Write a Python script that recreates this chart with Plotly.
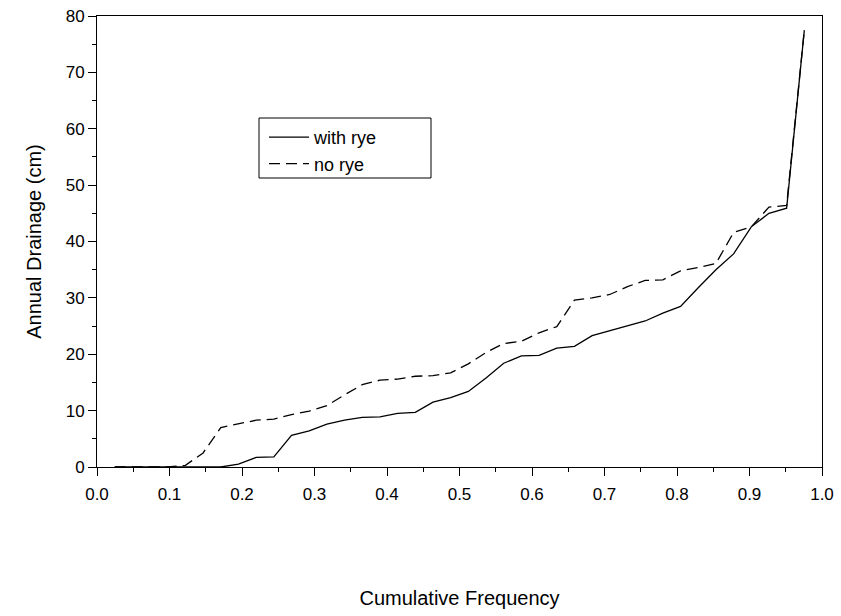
import plotly.graph_objects as go

n = 40
cum_freq = [i / (n + 1) for i in range(1, n + 1)]

with_rye = [0, 0, 0, 0, 0, 0, 0, 0.5, 1.7, 1.8,
            5.6, 6.4, 7.6, 8.3, 8.8, 8.9, 9.5, 9.7, 11.5, 12.3,
            13.4, 15.8, 18.4, 19.7, 19.8, 21.1, 21.4, 23.3, 24.2, 25.0,
            25.9, 27.3, 28.5, 31.8, 35.0, 37.8, 42.6, 45.0, 45.9, 77.5]

no_rye = [0, 0, 0, 0, 0.3, 2.5, 7.0, 7.6, 8.3, 8.5,
          9.3, 9.9, 10.9, 12.8, 14.6, 15.4, 15.6, 16.1, 16.2, 16.7,
          18.3, 20.3, 21.9, 22.3, 23.8, 24.9, 29.6, 30.0, 30.6, 32.0,
          33.1, 33.2, 34.8, 35.4, 36.1, 41.6, 42.6, 46.1, 46.4, 77.5]

x_ticks = [round(0.1 * i, 1) for i in range(11)]
y_ticks = list(range(0, 81, 10))

FONT = "Liberation Sans, Arial, sans-serif"

fig = go.Figure()
fig.add_trace(go.Scatter(x=cum_freq, y=with_rye, mode="lines", name="with rye",
                         line=dict(color="black", width=1.3)))
fig.add_trace(go.Scatter(x=cum_freq, y=no_rye, mode="lines", name="no rye",
                         line=dict(color="black", width=1.3, dash="11px,6px")))

axis_common = dict(showgrid=False, zeroline=False, showline=True, linecolor="black",
                   linewidth=1, mirror=True, ticks="outside", ticklen=8, tickwidth=1,
                   tickcolor="black", tickfont=dict(family=FONT, size=17, color="black"),
                   automargin=False)

fig.update_xaxes(range=[0, 1], tickvals=x_ticks, ticktext=[f"{v:.1f}" for v in x_ticks],
                 minor=dict(dtick=0.05, ticks="outside", ticklen=4, tickcolor="black"),
                 ticklabelstandoff=4,
                 title=dict(text="Cumulative Frequency", font=dict(family=FONT, size=20, color="black"),
                            standoff=87),
                 **axis_common)
fig.update_yaxes(range=[0, 80], tickvals=y_ticks,
                 minor=dict(dtick=5, ticks="outside", ticklen=4, tickcolor="black"),
                 title=dict(text="Annual Drainage (cm)", font=dict(family=FONT, size=20, color="black"),
                            standoff=18),
                 **axis_common)

# legend frame
fig.add_shape(type="rect", xref="paper", yref="paper",
              x0=(259 - 97) / 725, x1=(431 - 97) / 725,
              y0=(467 - 178) / 451, y1=(467 - 118) / 451,
              line=dict(color="black", width=1), fillcolor="rgba(0,0,0,0)", layer="above")

fig.update_layout(
    width=841, height=616,
    margin=dict(l=97, r=19, t=16, b=149),
    plot_bgcolor="white", paper_bgcolor="white",
    font=dict(family=FONT, color="black"),
    legend=dict(x=(264 - 97) / 725, y=(467 - 119) / 451, xanchor="left", yanchor="top",
                borderwidth=0, bgcolor="rgba(0,0,0,0)",
                font=dict(family=FONT, size=18, color="black"),
                tracegroupgap=0, itemwidth=40),
)

fig.write_html("out.html")
